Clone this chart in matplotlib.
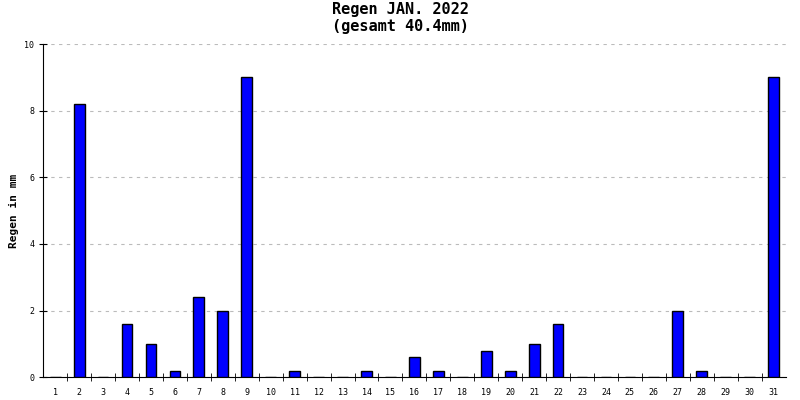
import numpy as np
import matplotlib
matplotlib.use("Agg")
import matplotlib.pyplot as plt

days = list(range(1, 32))
rain_mm = [0, 8.2, 0, 1.6, 1.0, 0.2, 2.4, 2.0, 9.0, 0, 0.2, 0, 0, 0.2, 0, 0.6,
           0.2, 0, 0.8, 0.2, 1.0, 1.6, 0, 0, 0, 0, 2.0, 0.2, 0, 0, 9.0]
title = "Regen JAN. 2022\n(gesamt 40.4mm)"

plt.rcParams['font.family'] = ['DejaVu Sans Mono']
fig = plt.figure(figsize=(8, 4), dpi=100)
ax = fig.add_axes([0.054, 0.057, 0.928, 0.833])

ax.bar(days, rain_mm, width=0.45, color='#0000ff', edgecolor='black', linewidth=1, zorder=3)
ax.set_xlim(0.5, 31.5)
ax.set_ylim(0, 10)
ax.set_yticks(range(0, 11, 2))
ax.tick_params(axis='y', labelsize=6, direction='inout', length=6)
ax.set_xticks(days)
ax.set_xticklabels([str(d) for d in days], fontsize=6)
ax.tick_params(axis='x', which='major', length=0, pad=8)
ax.set_xticks(np.arange(1.5, 31.5, 1), minor=True)
ax.tick_params(axis='x', which='minor', direction='inout', length=6)
ax.yaxis.grid(True, linestyle=(0, (3, 4)), color='#bbbbbb', linewidth=0.8, zorder=0)
for s in ['top', 'right']:
    ax.spines[s].set_visible(False)
ax.set_ylabel("Regen in mm", fontsize=8, fontweight='bold')
fig.suptitle(title, fontsize=11, fontweight='bold', y=0.995)
fig.savefig("out.png", dpi=100)
